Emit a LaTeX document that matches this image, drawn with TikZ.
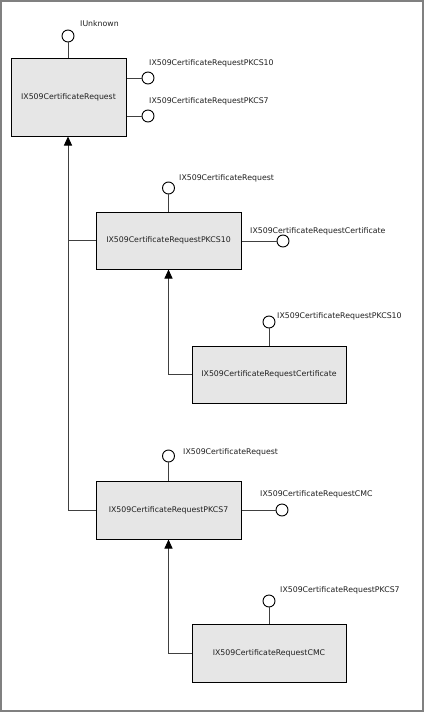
\documentclass[tikz,border=0pt]{standalone}
\usepackage{fontspec}
\setmainfont{DejaVu Sans}
\usetikzlibrary{arrows.meta}
\definecolor{boxfill}{HTML}{E6E6E6}
\definecolor{framegray}{HTML}{808080}
\definecolor{linegray}{HTML}{404040}
\definecolor{txt}{HTML}{202020}
\tikzset{
  classbox/.style={draw=black, line width=1pt, fill=boxfill, inner sep=0pt, text=txt,
    font=\fontsize{7.8}{9}\selectfont},
  lolli/.style={draw=black, line width=0.9pt, fill=white, circle, minimum size=12pt, inner sep=0pt},
  conn/.style={draw=linegray, line width=1pt},
  inherit/.style={conn, -{Triangle[width=8pt,length=9pt,color=black,fill=black]}},
  lbl/.style={anchor=west, inner sep=0pt, text=txt, font=\fontsize{7.8}{9}\selectfont},
}
\begin{document}
\begin{tikzpicture}[x=1pt,y=-1pt]
\useasboundingbox (0,0) rectangle (424,712);
\fill[white] (0,0) rectangle (424,712);
\draw[framegray, line width=2pt] (1,1) rectangle (422.5,710.5);

% boxes
\node[classbox, minimum width=115pt, minimum height=78pt] (b1) at (68.5,97) {IX509CertificateRequest};
\node[classbox, minimum width=145pt, minimum height=57pt] (b2) at (168.5,240.5) {IX509CertificateRequestPKCS10};
\node[classbox, minimum width=154pt, minimum height=57pt] (b3) at (269,374.5) {IX509CertificateRequestCertificate};
\node[classbox, minimum width=145pt, minimum height=58pt] (b4) at (168.5,510) {IX509CertificateRequestPKCS7};
\node[classbox, minimum width=154pt, minimum height=58pt] (b5) at (269,653) {IX509CertificateRequestCMC};

% lollipops
\node[lolli] (c1t) at (68,36) {};
\node[lolli] (c1a) at (148,78) {};
\node[lolli] (c1b) at (148,116) {};
\node[lolli] (c2t) at (168.5,188) {};
\node[lolli] (c2r) at (283,241) {};
\node[lolli] (c3t) at (269,322) {};
\node[lolli] (c4t) at (168.5,456) {};
\node[lolli] (c4r) at (282,510) {};
\node[lolli] (c5t) at (269,601) {};

\draw[conn] (b1.north -| c1t) -- (c1t.south);
\draw[conn] (b1.east |- c1a) -- (c1a.west);
\draw[conn] (b1.east |- c1b) -- (c1b.west);
\draw[conn] (b2.north -| c2t) -- (c2t.south);
\draw[conn] (b2.east |- c2r) -- (c2r.west);
\draw[conn] (b3.north -| c3t) -- (c3t.south);
\draw[conn] (b4.north -| c4t) -- (c4t.south);
\draw[conn] (b4.east |- c4r) -- (c4r.west);
\draw[conn] (b5.north -| c5t) -- (c5t.south);

% labels
\node[lbl] (l1t) at (80,24) {IUnknown};
\node[lbl] (l1a) at (149,63) {IX509CertificateRequestPKCS10};
\node[lbl] (l1b) at (149,101) {IX509CertificateRequestPKCS7};
\node[lbl] (l2t) at (179,178) {IX509CertificateRequest};
\node[lbl] (l2r) at (250,231) {IX509CertificateRequestCertificate};
\node[lbl] (l3t) at (277,316) {IX509CertificateRequestPKCS10};
\node[lbl] (l4t) at (183,452) {IX509CertificateRequest};
\node[lbl] (l4r) at (260,494) {IX509CertificateRequestCMC};
\node[lbl] (l5t) at (280,590) {IX509CertificateRequestPKCS7};

% inheritance
\coordinate (j1) at (68,240.5);
\coordinate (j2) at (68,510);
\draw[inherit] (j2) -- (b1.south -| j2);
\draw[conn] (j1) -- (b2.west);
\draw[conn] (j2) -- (b4.west);
\draw[inherit] (b3.west) -| (b2.south);
\draw[inherit] (b5.west) -| (b4.south);
\end{tikzpicture}
\end{document}
